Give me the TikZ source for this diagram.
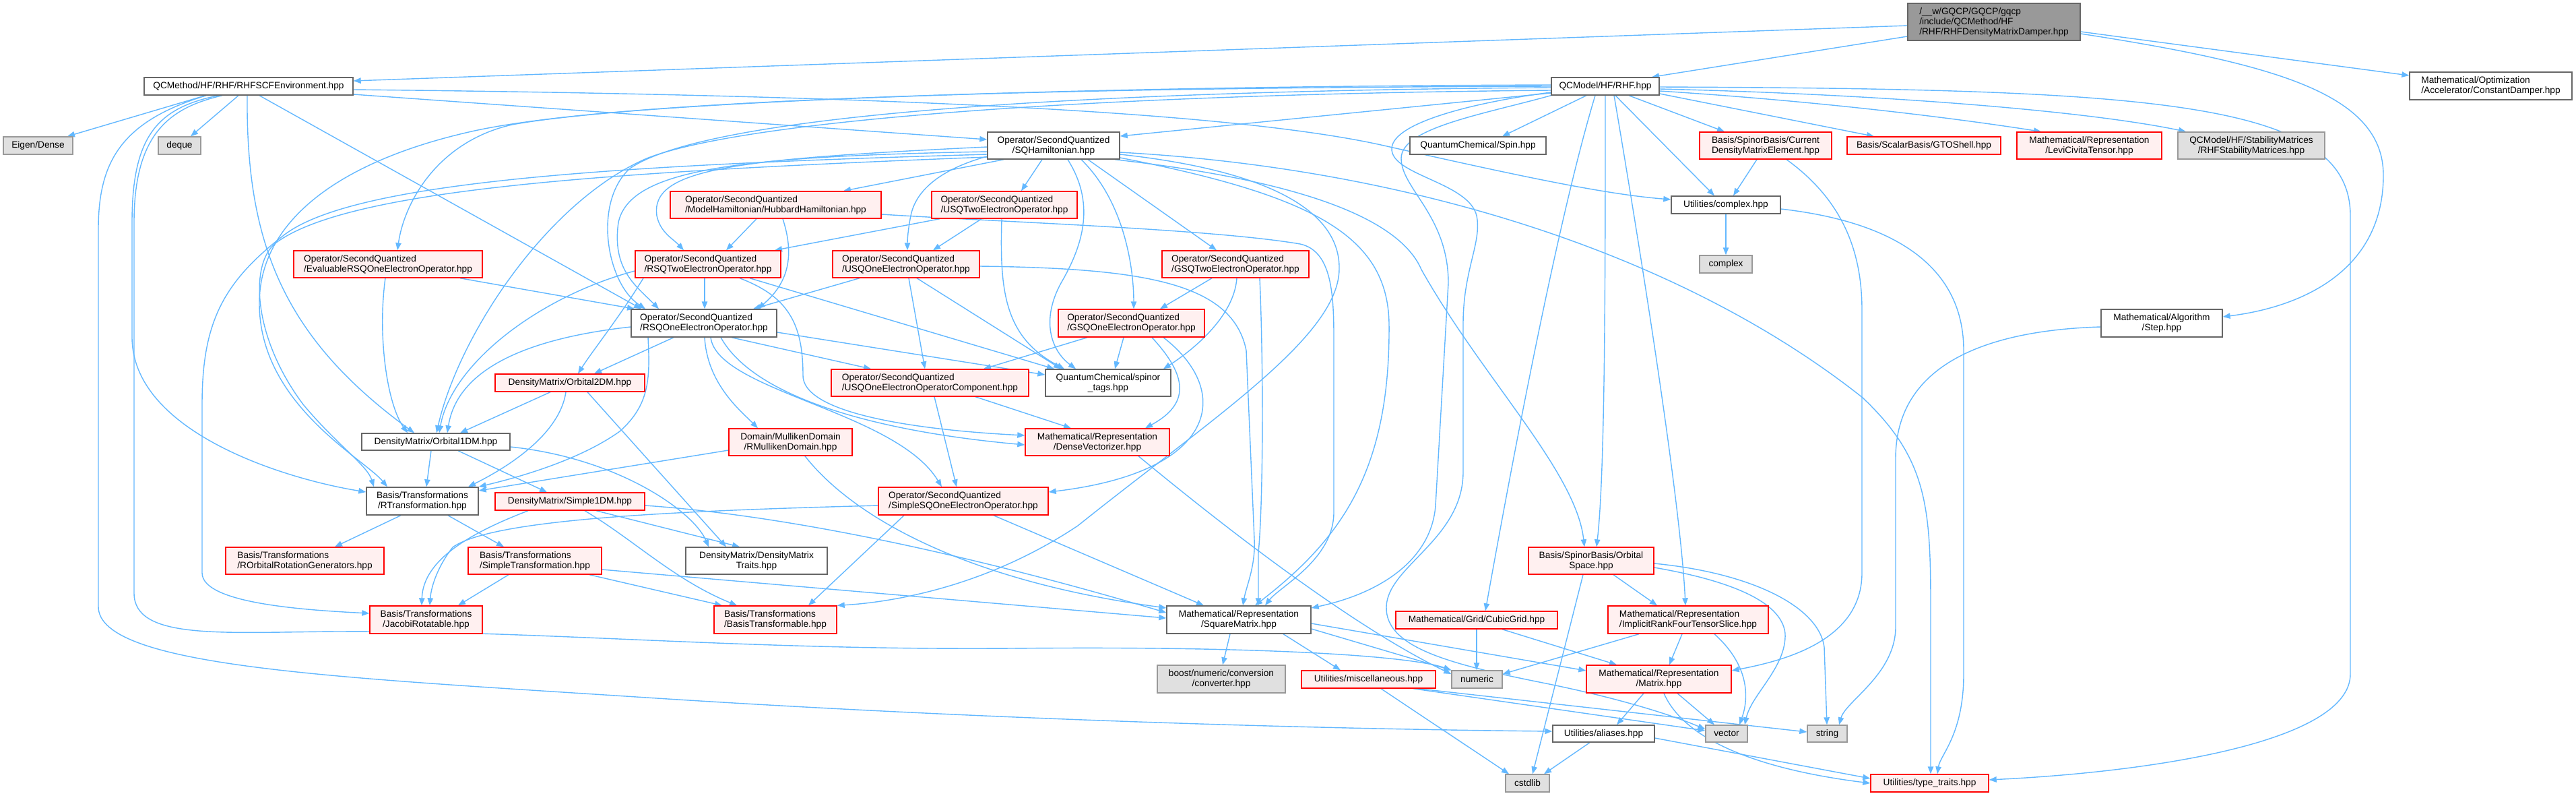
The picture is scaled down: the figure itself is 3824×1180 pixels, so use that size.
\documentclass[tikz,border=0pt]{standalone}
\usepackage{fontspec}
\newfontfamily\dfont{Liberation Sans}
\usetikzlibrary{arrows.meta}
\definecolor{edgec}{HTML}{63B8FF}
\definecolor{gfour}{HTML}{666666}
\definecolor{gsix}{HTML}{999999}
\definecolor{gfill}{HTML}{E0E0E0}
\definecolor{rfill}{HTML}{FFF0F0}
\definecolor{rline}{HTML}{FF0000}
\pgfdeclarelayer{bg}
\pgfsetlayers{bg,main}
\tikzset{
 basebox/.style={line width=0.7pt, inner sep=0pt, text=black, font={\dfont\fontsize{6.85}{7.5}\selectfont}},
 wbox/.style={basebox, draw=gfour, fill=white},
 rbox/.style={basebox, draw=rline, fill=rfill},
 gbox/.style={basebox, draw=gsix, fill=gfill},
 mbox/.style={basebox, draw=gfour, fill=gsix},
 ed/.style={draw=edgec, line width=0.7pt, -{Triangle[length=5.5pt,width=4.2pt]}},
}
\begin{document}
\begin{tikzpicture}[x=0.5pt,y=-0.5pt]
\begin{pgfonlayer}{bg}
\fill[white] (0,0) rectangle (3824,1180);
\end{pgfonlayer}
\useasboundingbox (0,0) rectangle (3824,1180);

% ---------- nodes ----------
\node[mbox, minimum width=128pt, minimum height=27.5pt, align=left] (M) at (2960,32.5) {/\_\_w/GQCP/GQCP/gqcp\\/include/QCMethod/HF\\/RHF/RHFDensityMatrixDamper.hpp};
\node[wbox, minimum width=155pt, minimum height=13pt] (ENV) at (369,128) {QCMethod/HF/RHF/RHFSCFEnvironment.hpp};
\node[wbox, minimum width=80pt, minimum height=13pt] (RHF) at (2383,128) {QCModel/HF/RHF.hpp};
\node[wbox, minimum width=120.5pt, minimum height=20.5pt, align=left] (CD) at (3697.5,127.5) {Mathematical/Optimization\\/Accelerator/ConstantDamper.hpp};
\node[gbox, minimum width=51.5pt, minimum height=13pt] (EIG) at (56.5,216) {Eigen/Dense};
\node[gbox, minimum width=31.5pt, minimum height=13pt] (DEQ) at (266.5,216) {deque};
\node[wbox, minimum width=98pt, minimum height=20pt, align=center] (SQH) at (1564,216) {Operator/SecondQuantized\\/SQHamiltonian.hpp};
\node[wbox, minimum width=101pt, minimum height=13pt] (SPIN) at (2194,216) {QuantumChemical/Spin.hpp};
\node[rbox, minimum width=98pt, minimum height=20pt, align=left] (CDM) at (2621,216) {Basis/SpinorBasis/Current\\DensityMatrixElement.hpp};
\node[rbox, minimum width=114pt, minimum height=13pt] (GTO) at (2856,216) {Basis/ScalarBasis/GTOShell.hpp};
\node[rbox, minimum width=107.5pt, minimum height=20pt, align=center] (LEVI) at (3101.5,216) {Mathematical/Representation\\/LeviCivitaTensor.hpp};
\node[gbox, minimum width=109pt, minimum height=20pt, align=center] (STAB) at (3342,216) {QCModel/HF/StabilityMatrices\\/RHFStabilityMatrices.hpp};
\node[wbox, minimum width=81pt, minimum height=13pt] (CX) at (2562,304) {Utilities/complex.hpp};
\node[rbox, minimum width=156.5pt, minimum height=20pt, align=left] (HUB) at (1151.5,304) {Operator/SecondQuantized\\/ModelHamiltonian/HubbardHamiltonian.hpp};
\node[rbox, minimum width=108pt, minimum height=20pt, align=left] (USQ2) at (1491,304) {Operator/SecondQuantized\\/USQTwoElectronOperator.hpp};
\node[gbox, minimum width=39pt, minimum height=13pt] (CPLX) at (2562,392) {complex};
\node[rbox, minimum width=140pt, minimum height=20pt, align=left] (EVAL) at (576,392) {Operator/SecondQuantized\\/EvaluableRSQOneElectronOperator.hpp};
\node[rbox, minimum width=108pt, minimum height=20pt, align=left] (RSQ2) at (1051,392) {Operator/SecondQuantized\\/RSQTwoElectronOperator.hpp};
\node[rbox, minimum width=109pt, minimum height=20pt, align=left] (USQ1) at (1345,392) {Operator/SecondQuantized\\/USQOneElectronOperator.hpp};
\node[rbox, minimum width=109pt, minimum height=20pt, align=left] (GSQ2) at (1834,392) {Operator/SecondQuantized\\/GSQTwoElectronOperator.hpp};
\node[wbox, minimum width=108pt, minimum height=20.5pt, align=left] (RSQ1) at (1045,479.5) {Operator/SecondQuantized\\/RSQOneElectronOperator.hpp};
\node[rbox, minimum width=108.5pt, minimum height=20.5pt, align=left] (GSQ1) at (1679.5,479.5) {Operator/SecondQuantized\\/GSQOneElectronOperator.hpp};
\node[wbox, minimum width=90pt, minimum height=20.5pt, align=center] (STEP) at (3209,479.5) {Mathematical/Algorithm\\/Step.hpp};
\node[rbox, minimum width=111pt, minimum height=13pt] (O2) at (846,568) {DensityMatrix/Orbital2DM.hpp};
\node[rbox, minimum width=146.5pt, minimum height=20pt, align=left] (USQC) at (1380.5,568) {Operator/SecondQuantized\\/USQOneElectronOperatorComponent.hpp};
\node[wbox, minimum width=93pt, minimum height=20pt, align=center] (SPT) at (1645,568) {QuantumChemical/spinor\\\_tags.hpp};
\node[wbox, minimum width=110pt, minimum height=12.5pt] (O1) at (647,655.5) {DensityMatrix/Orbital1DM.hpp};
\node[rbox, minimum width=91.5pt, minimum height=20pt, align=center] (RMD) at (1173.5,656) {Domain/MullikenDomain\\/RMullikenDomain.hpp};
\node[rbox, minimum width=107pt, minimum height=20pt, align=center] (DV) at (1629,656) {Mathematical/Representation\\/DenseVectorizer.hpp};
\node[wbox, minimum width=83pt, minimum height=20.5pt, align=center] (RT) at (627,743.5) {Basis/Transformations\\/RTransformation.hpp};
\node[rbox, minimum width=111pt, minimum height=13pt] (S1) at (846,744) {DensityMatrix/Simple1DM.hpp};
\node[rbox, minimum width=126pt, minimum height=20.5pt, align=left] (SSQ1) at (1430,743.5) {Operator/SecondQuantized\\/SimpleSQOneElectronOperator.hpp};
\node[rbox, minimum width=117.5pt, minimum height=20pt, align=left] (RORG) at (452.5,832) {Basis/Transformations\\/ROrbitalRotationGenerators.hpp};
\node[rbox, minimum width=99pt, minimum height=20pt, align=left] (STR) at (794,832) {Basis/Transformations\\/SimpleTransformation.hpp};
\node[wbox, minimum width=105pt, minimum height=20pt, align=center] (DMT) at (1123,832) {DensityMatrix/DensityMatrix\\Traits.hpp};
\node[rbox, minimum width=93pt, minimum height=20pt, align=center] (OSP) at (2362,832) {Basis/SpinorBasis/Orbital\\Space.hpp};
\node[rbox, minimum width=83.5pt, minimum height=20.5pt, align=center] (JAC) at (632.5,919.5) {Basis/Transformations\\/JacobiRotatable.hpp};
\node[rbox, minimum width=91pt, minimum height=20.5pt, align=left] (BT) at (1151,919.5) {Basis/Transformations\\/BasisTransformable.hpp};
\node[wbox, minimum width=107pt, minimum height=20.5pt, align=center] (SM) at (1839,919.5) {Mathematical/Representation\\/SquareMatrix.hpp};
\node[rbox, minimum width=120pt, minimum height=13pt] (CG) at (2192,920) {Mathematical/Grid/CubicGrid.hpp};
\node[rbox, minimum width=119pt, minimum height=20.5pt, align=left] (IRF) at (2506,919.5) {Mathematical/Representation\\/ImplicitRankFourTensorSlice.hpp};
\node[gbox, minimum width=95pt, minimum height=20.5pt, align=center] (BOOST) at (1813,1007.5) {boost/numeric/conversion\\/converter.hpp};
\node[rbox, minimum width=99.5pt, minimum height=13pt] (MISC) at (2031.5,1008) {Utilities/miscellaneous.hpp};
\node[gbox, minimum width=37.5pt, minimum height=13pt] (NUM) at (2192.5,1008) {numeric};
\node[rbox, minimum width=107.5pt, minimum height=20.5pt, align=center] (MAT) at (2462.5,1007.5) {Mathematical/Representation\\/Matrix.hpp};
\node[wbox, minimum width=75.5pt, minimum height=12.5pt] (AL) at (2380.5,1088.5) {Utilities/aliases.hpp};
\node[gbox, minimum width=31pt, minimum height=12.5pt] (VEC) at (2563,1088.5) {vector};
\node[gbox, minimum width=29.5pt, minimum height=12.5pt] (STRG) at (2712.5,1088.5) {string};
\node[gbox, minimum width=32.5pt, minimum height=13pt] (CSTD) at (2267.5,1162) {cstdlib};
\node[rbox, minimum width=87.5pt, minimum height=13pt] (TT) at (2864.5,1162) {Utilities/type\_traits.hpp};

% ---------- edges ----------
\begin{pgfonlayer}{bg}
% main
\draw[ed] (M.west |- 0,38) -- (ENV.east |- 0,120);
\draw[ed] (M.west |- 0,54) -- (2452,0 |- RHF.north);
\draw[ed] (M.east |- 0,47) -- (CD.west |- 0,112);
\draw[ed] (M.east |- 0,50) .. controls (3380,95) and (3538,140) .. (3538,260) .. controls (3538,400) and (3420,455) .. (STEP.east |- 0,470);
% ENV
\draw[ed] (305,0 |- ENV.south) -- (100,0 |- EIG.north);
\draw[ed] (354,0 |- ENV.south) -- (283,0 |- DEQ.north);
\draw[ed] (ENV.east |- 0,140) -- (SQH.west |- 0,207);
\draw[ed] (ENV.east |- 0,133) .. controls (1200,140) and (1800,160) .. (2050,215) .. controls (2250,260) and (2380,288) .. (CX.west |- 0,296);
\draw[ed] (385,0 |- ENV.south) -- (952,0 |- RSQ1.north);
\draw[ed] (367,0 |- ENV.south) .. controls (365,360) and (420,500) .. (615,0 |- O1.north);
\draw[ed] (324,0 |- ENV.south) .. controls (235,160) and (196,200) .. (196,330) -- (196,500) .. controls (196,640) and (420,710) .. (RT.west |- 0,730);
\draw[ed] (306,0 |- ENV.south) .. controls (180,180) and (146,240) .. (146,340) -- (146,900) .. controls (146,990) and (500,1005) .. (960,1035) .. controls (1500,1070) and (2000,1082) .. (AL.west |- 0,1085);
\draw[ed] (330,0 |- ENV.south) .. controls (250,160) and (199,200) .. (199,330) -- (199,880) .. controls (199,950) and (330,938) .. (500,937) .. controls (800,935) and (1100,965) .. (1500,962) .. controls (1900,958) and (2100,975) .. (NUM.north west);
% RHF
\draw[ed] (2355,0 |- RHF.south) -- (2230,0 |- SPIN.north);
\draw[ed] (2398,0 |- RHF.south) -- (2545,0 |- CX.north);
\draw[ed] (2418,0 |- RHF.south) -- (2560,0 |- CDM.north);
\draw[ed] (RHF.east |- 0,139) -- (2782,0 |- GTO.north);
\draw[ed] (RHF.east |- 0,135) .. controls (2700,150) and (2900,175) .. (3030,0 |- LEVI.north);
\draw[ed] (RHF.east |- 0,132) .. controls (2800,140) and (3100,165) .. (3245,0 |- STAB.north);
\draw[ed] (RHF.west |- 0,138) -- (SQH.east |- 0,202);
\draw[ed] (RHF.west |- 0,126) .. controls (1600,128) and (950,150) .. (760,185) .. controls (650,210) and (600,300) .. (590,0 |- EVAL.north);
\draw[ed] (RHF.west |- 0,130) .. controls (1600,135) and (1050,170) .. (935,250) .. controls (880,300) and (900,420) .. (958,0 |- RSQ1.north);
\draw[ed] (RHF.west |- 0,134) .. controls (1600,140) and (1100,180) .. (960,235) .. controls (810,300) and (680,500) .. (648,0 |- O1.north);
\draw[ed] (RHF.west |- 0,128) .. controls (1500,130) and (900,150) .. (700,195) .. controls (500,240) and (385,330) .. (385,450) .. controls (385,600) and (540,680) .. (575,0 |- RT.north);
\draw[ed] (2383,0 |- RHF.south) .. controls (2383,400) and (2383,700) .. (2370,0 |- OSP.north);
\draw[ed] (2368,0 |- RHF.south) .. controls (2320,300) and (2260,600) .. (2205,0 |- CG.north);
\draw[ed] (2396,0 |- RHF.south) .. controls (2440,400) and (2495,750) .. (2502,0 |- IRF.north);
\draw[ed] (RHF.south west) .. controls (2200,170) and (2080,190) .. (2080,235) .. controls (2080,280) and (2150,320) .. (2150,420) -- (2131,750) .. controls (2125,830) and (2050,880) .. (SM.east |- 0,902);
\draw[ed] (RHF.west |- 0,137) .. controls (2200,150) and (2068,180) .. (2066,220) .. controls (2064,260) and (2180,270) .. (2192,320) .. controls (2200,360) and (2172,400) .. (2172,480) -- (2172,700) .. controls (2172,800) and (2060,840) .. (2058,900) .. controls (2056,960) and (2150,985) .. (2290,1013) .. controls (2400,1035) and (2480,1060) .. (VEC.west |- 0,1082);
\draw[ed] (RHF.east |- 0,129) .. controls (3200,132) and (3489,150) .. (3489,320) -- (3489,1000) .. controls (3489,1100) and (3200,1145) .. (TT.east |- 0,1157);
% Step, complex, CDM
\draw[ed] (STEP.west |- 0,485) .. controls (2950,490) and (2814,540) .. (2814,680) -- (2814,930) .. controls (2814,1000) and (2740,1040) .. (2730,0 |- STRG.north);
\draw[ed] (CX.south) -- (CPLX.north);
\draw[ed] (CX.east |- 0,310) .. controls (2820,330) and (2915,400) .. (2915,520) -- (2915,1000) .. controls (2915,1090) and (2880,1120) .. (2876,0 |- TT.north);
\draw[ed] (2608,0 |- CDM.south) -- (2573,0 |- CX.north);
\draw[ed] (2652,0 |- CDM.south) .. controls (2740,300) and (2764,380) .. (2764,460) -- (2764,850) .. controls (2764,950) and (2650,980) .. (MAT.east |- 0,995);
% SQH
\draw[ed] (1490,0 |- SQH.south) -- (1252,0 |- HUB.north);
\draw[ed] (1547,0 |- SQH.south) -- (1516,0 |- USQ2.north);
\draw[ed] (SQH.west |- 0,218) .. controls (1090,236) and (965,250) .. (975,320) .. controls (980,345) and (1000,355) .. (1015,0 |- RSQ2.north);
\draw[ed] (SQH.west |- 0,232) .. controls (1400,250) and (1360,280) .. (1352,320) .. controls (1348,340) and (1347,355) .. (1347,0 |- USQ1.north);
\draw[ed] (1615,0 |- SQH.south) -- (1806,0 |- GSQ2.north);
\draw[ed] (1605,0 |- SQH.south) .. controls (1670,300) and (1683,400) .. (1683,0 |- GSQ1.north);
\draw[ed] (1585,0 |- SQH.south) .. controls (1625,300) and (1610,360) .. (1575,420) .. controls (1545,475) and (1560,520) .. (1597,0 |- SPT.north);
\draw[ed] (SQH.west |- 0,225) .. controls (1100,232) and (935,250) .. (918,330) .. controls (908,400) and (945,425) .. (978,0 |- RSQ1.north);
\draw[ed] (SQH.west |- 0,229) .. controls (900,245) and (520,270) .. (420,350) .. controls (330,420) and (300,480) .. (300,600) -- (300,850) .. controls (300,895) and (450,905) .. (JAC.west |- 0,910);
\draw[ed] (SQH.west |- 0,233) .. controls (900,255) and (520,280) .. (410,360) .. controls (370,390) and (375,500) .. (450,600) .. controls (500,660) and (545,690) .. (555,0 |- RT.north);
\draw[ed] (SQH.east |- 0,229) .. controls (1900,255) and (1990,320) .. (1988,400) .. controls (1986,500) and (1800,620) .. (1600,780) .. controls (1450,880) and (1300,895) .. (BT.north east);
\draw[ed] (SQH.east |- 0,234) .. controls (1950,290) and (2060,350) .. (2062,480) .. controls (2064,700) and (1990,800) .. (1863,0 |- SM.north);
\draw[ed] (1655,0 |- SQH.south) .. controls (1950,270) and (2080,330) .. (2110,400) .. controls (2200,560) and (2340,700) .. (2352,0 |- OSP.north);
\draw[ed] (SQH.east |- 0,226) .. controls (2100,250) and (2500,380) .. (2765,590) .. controls (2860,680) and (2866,750) .. (2866,900) -- (2866,0 |- TT.north);
% HUB, USQ2
\draw[ed] (1123,0 |- HUB.south) -- (1078,0 |- RSQ2.north);
\draw[ed] (1162,0 |- HUB.south) .. controls (1180,380) and (1170,420) .. (1125,0 |- RSQ1.north);
\draw[ed] (HUB.east |- 0,318) .. controls (1500,330) and (1800,340) .. (1930,362) .. controls (1975,372) and (1980,430) .. (1980,500) -- (1980,760) .. controls (1980,830) and (1900,870) .. (1878,0 |- SM.north);
\draw[ed] (1395,0 |- USQ2.south) -- (1150,0 |- RSQ2.north);
\draw[ed] (1457,0 |- USQ2.south) -- (1385,0 |- USQ1.north);
\draw[ed] (1487,0 |- USQ2.south) .. controls (1484,430) and (1490,500) .. (1580,0 |- SPT.north);
% EVAL, RSQ2
\draw[ed] (683,0 |- EVAL.south) -- (942,0 |- RSQ1.north);
\draw[ed] (572,0 |- EVAL.south) .. controls (560,500) and (575,600) .. (605,0 |- O1.north);
\draw[ed] (1046,0 |- RSQ2.south) -- (1046,0 |- RSQ1.north);
\draw[ed] (RSQ2.west |- 0,402) .. controls (800,440) and (670,540) .. (652,0 |- O1.north);
\draw[ed] (955,0 |- RSQ2.south) .. controls (920,470) and (880,520) .. (858,0 |- O2.north);
\draw[ed] (1113,0 |- RSQ2.south) -- (1565,0 |- SPT.north);
\draw[ed] (1098,0 |- RSQ2.south) .. controls (1170,440) and (1192,480) .. (1192,557) .. controls (1192,620) and (1400,640) .. (DV.west |- 0,646);
% USQ1
\draw[ed] (1276,0 |- USQ1.south) -- (1118,0 |- RSQ1.north);
\draw[ed] (1349,0 |- USQ1.south) -- (1373,0 |- USQC.north);
\draw[ed] (1361,0 |- USQ1.south) -- (1575,0 |- SPT.north);
\draw[ed] (USQ1.east |- 0,395) .. controls (1700,398) and (1830,420) .. (1850,520) -- (1862,800) .. controls (1864,840) and (1850,870) .. (1845,0 |- SM.north);
% GSQ2
\draw[ed] (1799,0 |- GSQ2.south) -- (1722,0 |- GSQ1.north);
\draw[ed] (1836,0 |- GSQ2.south) .. controls (1832,470) and (1770,520) .. (1727,0 |- SPT.north);
\draw[ed] (1870,0 |- GSQ2.south) .. controls (1876,550) and (1875,750) .. (1868,820) -- (1868,0 |- SM.north);
% GSQ1
\draw[ed] (1614,0 |- GSQ1.south) -- (1460,0 |- USQC.north);
\draw[ed] (1668,0 |- GSQ1.south) -- (1655,0 |- SPT.north);
\draw[ed] (1710,0 |- GSQ1.south) .. controls (1765,560) and (1765,600) .. (1700,0 |- DV.north);
\draw[ed] (1727,0 |- GSQ1.south) .. controls (1830,580) and (1810,700) .. (SSQ1.east |- 0,730);
% RSQ1
\draw[ed] (1000,0 |- RSQ1.south) -- (882,0 |- O2.north);
\draw[ed] (RSQ1.west |- 0,485) .. controls (800,500) and (680,540) .. (664,0 |- O1.north);
\draw[ed] (962,0 |- RSQ1.south) .. controls (965,560) and (965,600) .. (920,640) .. controls (850,690) and (740,715) .. (RT.north east);
\draw[ed] (1086,0 |- RSQ1.south) -- (1293,0 |- USQC.north);
\draw[ed] (RSQ1.east |- 0,493) -- (SPT.west |- 0,556);
\draw[ed] (1046,0 |- RSQ1.south) .. controls (1050,570) and (1100,610) .. (1125,0 |- RMD.north);
\draw[ed] (1070,0 |- RSQ1.south) .. controls (1120,590) and (1300,640) .. (DV.west |- 0,660);
\draw[ed] (1055,0 |- RSQ1.south) .. controls (1065,580) and (1330,610) .. (1398,0 |- SSQ1.north);
% O2, O1, RT
\draw[ed] (817,0 |- O2.south) -- (683,0 |- O1.north);
\draw[ed] (840,0 |- O2.south) .. controls (830,650) and (740,700) .. (695,0 |- RT.north);
\draw[ed] (872,0 |- O2.south) -- (1078,0 |- DMT.north);
\draw[ed] (640,0 |- O1.south) -- (633,0 |- RT.north);
\draw[ed] (680,0 |- O1.south) -- (812,0 |- S1.north);
\draw[ed] (O1.east |- 0,663) .. controls (920,680) and (1030,760) .. (1052,0 |- DMT.north);
\draw[ed] (595,0 |- RT.south) -- (497,0 |- RORG.north);
\draw[ed] (665,0 |- RT.south) -- (748,0 |- STR.north);
% S1
\draw[ed] (784,0 |- S1.south) .. controls (700,790) and (628,830) .. (626,0 |- JAC.north);
\draw[ed] (868,0 |- S1.south) .. controls (940,800) and (1000,860) .. (1094,0 |- BT.north);
\draw[ed] (885,0 |- S1.south) -- (1098,0 |- DMT.north);
\draw[ed] (S1.east |- 0,750) .. controls (1250,770) and (1600,870) .. (SM.west |- 0,909);
% SSQ1, USQC, RMD, DV
\draw[ed] (1342,0 |- SSQ1.south) -- (1200,0 |- BT.north);
\draw[ed] (1475,0 |- SSQ1.south) -- (1787,0 |- SM.north);
\draw[ed] (SSQ1.west |- 0,750) .. controls (1000,758) and (730,770) .. (672,812) .. controls (650,840) and (640,870) .. (638,0 |- JAC.north);
\draw[ed] (1448,0 |- USQC.south) -- (1590,0 |- DV.north);
\draw[ed] (1387,0 |- USQC.south) -- (1420,0 |- SSQ1.north);
\draw[ed] (RMD.west |- 0,668) -- (RT.east |- 0,728);
\draw[ed] (1195,0 |- RMD.south) .. controls (1260,760) and (1420,860) .. (SM.west |- 0,902);
\draw[ed] (1690,0 |- DV.south) .. controls (1900,850) and (2050,950) .. (NUM.west |- 0,1000);
% STR
\draw[ed] (755,0 |- STR.south) -- (680,0 |- JAC.north);
\draw[ed] (875,0 |- STR.south) -- (1072,0 |- BT.north);
\draw[ed] (STR.east |- 0,845) -- (SM.west |- 0,917);
% SM
\draw[ed] (1826,0 |- SM.south) -- (1815,0 |- BOOST.north);
\draw[ed] (1905,0 |- SM.south) -- (1990,0 |- MISC.north);
\draw[ed] (SM.east |- 0,933) -- (NUM.north west);
\draw[ed] (SM.east |- 0,925) -- (MAT.west |- 0,995);
% OSP, CG, IRF
\draw[ed] (2395,0 |- OSP.south) -- (2460,0 |- IRF.north);
\draw[ed] (2350,0 |- OSP.south) -- (2275,0 |- CSTD.north);
\draw[ed] (OSP.east |- 0,842) .. controls (2560,860) and (2645,890) .. (2650,940) .. controls (2652,990) and (2600,1030) .. (2590,0 |- VEC.north);
\draw[ed] (OSP.east |- 0,836) .. controls (2600,850) and (2700,900) .. (2708,960) -- (2712,0 |- STRG.north);
\draw[ed] (2192,0 |- CG.south) -- (2192,0 |- NUM.north);
\draw[ed] (2230,0 |- CG.south) -- (2400,0 |- MAT.north);
\draw[ed] (2433,0 |- IRF.south) -- (NUM.east |- 0,1000);
\draw[ed] (2497,0 |- IRF.south) -- (2478,0 |- MAT.north);
\draw[ed] (2545,0 |- IRF.south) .. controls (2600,990) and (2595,1040) .. (2582,0 |- VEC.north);
% MAT, MISC, AL
\draw[ed] (2440,0 |- MAT.south) -- (2400,0 |- AL.north);
\draw[ed] (2490,0 |- MAT.south) -- (2545,0 |- VEC.north);
\draw[ed] (2470,0 |- MAT.south) .. controls (2510,1120) and (2680,1150) .. (TT.west |- 0,1162);
\draw[ed] (2050,0 |- MISC.south) -- (2240,0 |- CSTD.north);
\draw[ed] (2098,0 |- MISC.south) -- (VEC.west |- 0,1084);
\draw[ed] (2105,0 |- MISC.south) -- (STRG.west |- 0,1086);
\draw[ed] (2360,0 |- AL.south) -- (2292,0 |- CSTD.north);
\draw[ed] (AL.east |- 0,1095) -- (TT.west |- 0,1155);
\end{pgfonlayer}
\end{tikzpicture}
\end{document}
